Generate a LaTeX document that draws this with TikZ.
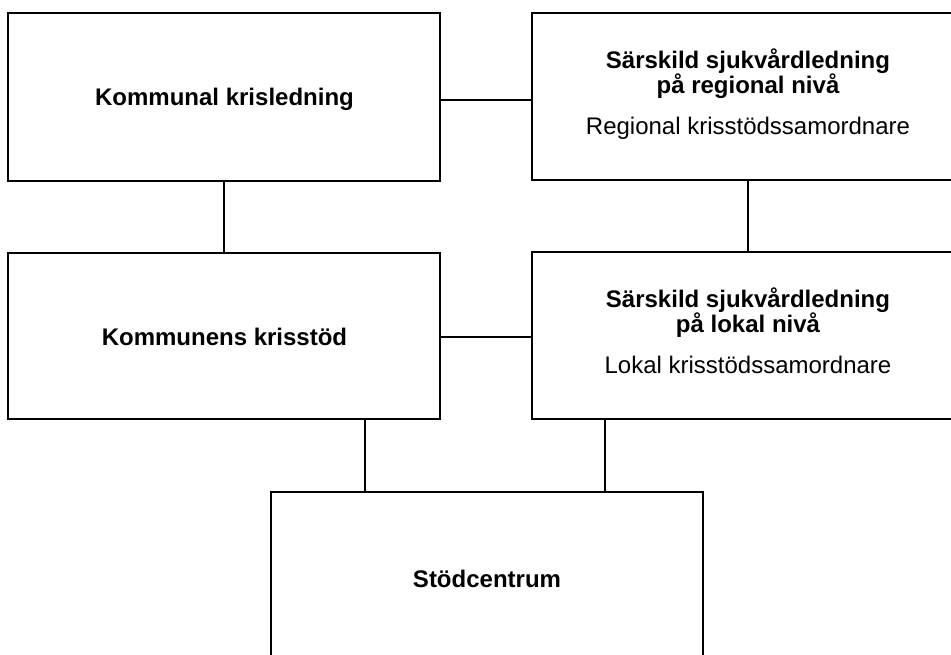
\documentclass[tikz,border=0pt]{standalone}
\usepackage{fontspec}
\setmainfont{Liberation Sans}
\begin{document}
\begin{tikzpicture}[x=1pt,y=-1pt,
  box/.style={draw=black, line width=2pt, rectangle, inner sep=0pt, fill=none},
  conn/.style={draw=black, line width=2pt},
  txt/.style={inner sep=0pt, anchor=base, font=\fontsize{24}{28}\selectfont},
  btxt/.style={txt, font=\fontsize{24}{28}\selectfont\bfseries}]
\useasboundingbox (0,0) rectangle (951,655);
% boxes
\node[box, minimum width=432pt, minimum height=168pt] (b1) at (224,97) {};
\node[box, minimum width=432pt, minimum height=167pt] (b2) at (748,96.5) {};
\node[box, minimum width=432pt, minimum height=166pt] (b3) at (224,336) {};
\node[box, minimum width=432pt, minimum height=167pt] (b4) at (748,335.5) {};
\node[box, minimum width=432pt, minimum height=180pt] (b5) at (487,582) {};
% connectors
\draw[conn] (b1.east |- 0,100) -- (b2.west |- 0,100);
\draw[conn] (b1.south) -- (b3.north);
\draw[conn] (b2.south) -- (b4.north);
\draw[conn] (b3.east |- 0,337) -- (b4.west |- 0,337);
\draw[conn] (b3.south -| 365,0) -- (b5.north -| 365,0);
\draw[conn] (b4.south -| 605,0) -- (b5.north -| 605,0);
% texts
\node[btxt] (t1) at (224.5,106) {Kommunal krisledning};
\node[btxt] (t2a) at (748,69) {Särskild sjukvårdledning};
\node[btxt] (t2b) at (748,94) {på regional nivå};
\node[txt] (t2c) at (748,135) {Regional krisstödssamordnare};
\node[btxt] (t3) at (224.5,345) {Kommunens krisstöd};
\node[btxt] (t4a) at (748,307) {Särskild sjukvårdledning};
\node[btxt] (t4b) at (748,332) {på lokal nivå};
\node[txt] (t4c) at (748,373) {Lokal krisstödssamordnare};
\node[btxt] (t5) at (487,587) {Stödcentrum};
\end{tikzpicture}
\end{document}
